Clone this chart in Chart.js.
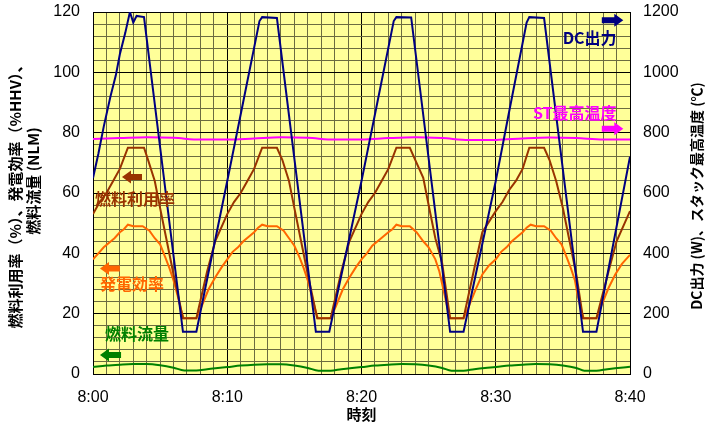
<!DOCTYPE html>
<html>
<head>
<meta charset="utf-8">
<script src="https://cdn.jsdelivr.net/npm/chart.js@4.4.0/dist/chart.umd.min.js"></script>
<style>
html, body { margin: 0; padding: 0; background: #fff; }
</style>
</head>
<body>
<canvas id="c" width="719" height="423"></canvas>
<script>
// time in minutes after 8:00
var xTicks = [0, 10, 20, 30, 40];

// DC output (W) - right axis
var dcTime = [0, 0.4, 0.8, 1.3, 1.7, 2.0, 2.4, 2.75, 3.0, 3.25, 3.8, 6.7, 7.7,
  10.0, 11.0, 12.4, 12.6, 13.7, 16.6, 17.6,
  20.0, 21.0, 22.4, 22.6, 23.7, 26.6, 27.6,
  30.0, 31.0, 32.3, 32.5, 33.6, 36.5, 37.5, 40.0];
var dcPower = [650, 730, 820, 920, 990, 1060, 1130, 1200, 1165, 1187, 1183, 140, 140,
  640, 860, 1170, 1183, 1180, 140, 140,
  640, 860, 1170, 1183, 1182, 140, 140,
  640, 870, 1165, 1183, 1180, 140, 140, 720];

// stack max temperature (degC) - right axis
var stTime = [0, 2, 4, 6, 8, 10, 12, 14, 16, 18, 20, 22, 24, 26, 28, 30, 32, 34, 36, 38, 40];
var stTemp = [779, 782, 785, 783, 777, 777, 781, 785, 783, 777, 777, 782, 785, 782, 776, 776, 781, 784, 782, 777, 777];

// fuel utilization (%)
var fuTime = [0, 0.5, 1.0, 1.5, 2.0, 2.6, 3.8, 4.1, 4.6, 5.0, 5.5, 6.0, 6.7, 7.7, 8.5, 9.1,
  10.0, 10.5, 11.0, 11.5, 12.0, 12.6, 13.7, 14.1, 14.6, 15.0, 15.5, 16.0, 16.7, 17.7, 18.5, 19.1,
  20.0, 20.5, 21.0, 21.5, 22.0, 22.6, 23.6, 24.0, 24.6, 25.0, 25.5, 26.0, 26.6, 27.6, 28.4, 29.0,
  30.0, 30.5, 31.0, 31.5, 32.0, 32.5, 33.6, 34.0, 34.5, 35.0, 35.5, 36.0, 36.5, 37.5, 38.4, 39.0, 40.0];
var fuelUtil = [53, 57, 60, 64, 68, 75, 75, 71, 64, 55, 44, 33, 18.5, 18.5, 34, 44,
  53, 57, 60, 64, 68, 75, 75, 71, 64, 55, 44, 33, 18.5, 18.5, 34, 44,
  53, 57, 60, 64, 68, 75, 75, 71, 65, 56, 45, 37, 18.5, 18.5, 35, 47,
  54, 57, 61, 64, 68, 75, 75, 71, 64, 55, 44, 33, 18.5, 18.5, 34, 44, 54];

// generating efficiency (%HHV)
var effTime = [0, 0.4, 0.8, 1.2, 1.6, 2.0, 2.3, 2.6, 3.0, 3.7, 4.2, 4.6, 5.0, 5.4, 5.7, 6.0, 6.3, 6.6, 6.75, 7.7, 8.1, 8.6, 9.1, 9.6,
  10, 10.4, 10.8, 11.2, 11.6, 12.0, 12.3, 12.6, 13.0, 13.7, 14.2, 14.6, 15.0, 15.4, 15.7, 16.0, 16.3, 16.6, 16.75, 17.7, 18.1, 18.6, 19.1, 19.6,
  20, 20.4, 20.8, 21.2, 21.6, 22.0, 22.3, 22.6, 23.0, 23.6, 24.1, 24.6, 25.0, 25.5, 25.8, 26.0, 26.2, 26.45, 26.6, 27.6, 28.0, 28.5, 29.0, 29.5,
  30, 30.4, 30.8, 31.2, 31.6, 32.0, 32.3, 32.6, 33.0, 33.6, 34.1, 34.5, 34.9, 35.3, 35.6, 35.9, 36.1, 36.4, 36.55, 37.5, 37.9, 38.4, 38.9, 39.4, 40];
var efficiency = [38, 40, 42, 43.5, 45, 47, 48, 49.5, 49, 49, 47.5, 45, 43, 38.5, 35, 31, 26, 20.5, 18.5, 18.5, 22.5, 28, 32, 35.5,
  38, 40.5, 42, 44, 45.5, 47, 48.5, 49.5, 49, 49, 47.5, 45, 42.5, 38.5, 35, 31, 26, 20.5, 18.5, 18.5, 22.5, 28, 32, 35.5,
  38, 40, 42.5, 44, 45.5, 47, 48, 49.5, 49, 49, 47, 44, 42, 38, 34, 30, 26, 21, 18.5, 18.5, 22.5, 28, 33, 36,
  38, 40.5, 42, 44, 45.5, 47, 48.5, 49.5, 49, 49, 47.5, 45, 43, 38.5, 35, 31, 26, 20.5, 18.5, 18.5, 23, 28.5, 33, 36.5, 39.5];

// fuel flow (NLM)
var flowTime = [0, 1, 2, 3, 4, 5, 6, 6.8, 7.7, 8.5, 9.3,
  10, 11, 12, 13, 14, 15, 16, 16.8, 17.7, 18.5, 19.3,
  20, 21, 22, 23, 24, 25, 26, 26.7, 27.6, 28.4, 29.2,
  30, 31, 32, 33, 34, 35, 36, 36.6, 37.5, 38.3, 39.1, 40];
var fuelFlow = [2.3, 2.8, 3.1, 3.3, 3.3, 2.9, 2.1, 1.2, 1.2, 1.6, 2.0,
  2.3, 2.8, 3.1, 3.2, 3.2, 2.8, 2.0, 1.1, 1.1, 1.6, 2.0,
  2.3, 2.8, 3.1, 3.3, 3.2, 2.8, 2.0, 1.1, 1.1, 1.6, 2.0,
  2.3, 2.8, 3.1, 3.3, 3.2, 2.8, 2.0, 1.1, 1.1, 1.6, 2.0, 2.4];

function pts(t, v) {
  var out = [];
  for (var i = 0; i < t.length; i++) out.push({ x: t[i], y: v[i] });
  return out;
}

// labels with arrows, placed in data units (minutes, left axis)
var notes = [
  { text: 'DC出力', x: 39.0, y: 111.3, align: 'right', color: '#000080', a1: 37.9, a2: 39.5, ay: 117.3, dir: 1 },
  { text: 'ST最高温度', x: 39.0, y: 86.7, align: 'right', color: '#ff00ff', a1: 37.9, a2: 39.5, ay: 81.3, dir: 1 },
  { text: '燃料利用率', x: 0.15, y: 58, align: 'left', color: '#993300', a1: 2.16, a2: 3.65, ay: 65.3, dir: -1 },
  { text: '発電効率', x: 0.52, y: 29.7, align: 'left', color: '#ff6600', a1: 0.52, a2: 2.0, ay: 35, dir: -1 },
  { text: '燃料流量', x: 0.9, y: 13.3, align: 'left', color: '#008000', a1: 0.52, a2: 2.09, ay: 6.3, dir: -1 }
];

var JP = '"Noto Sans CJK JP", sans-serif';

function arrow(ctx, x1, x2, y, dir, color) {
  var head = 9, bh = 3, hh = 6.5;
  ctx.fillStyle = color;
  ctx.beginPath();
  if (dir > 0) {
    ctx.moveTo(x1, y - bh); ctx.lineTo(x2 - head, y - bh); ctx.lineTo(x2 - head, y - hh);
    ctx.lineTo(x2, y); ctx.lineTo(x2 - head, y + hh); ctx.lineTo(x2 - head, y + bh); ctx.lineTo(x1, y + bh);
  } else {
    ctx.moveTo(x2, y - bh); ctx.lineTo(x1 + head, y - bh); ctx.lineTo(x1 + head, y - hh);
    ctx.lineTo(x1, y); ctx.lineTo(x1 + head, y + hh); ctx.lineTo(x1 + head, y + bh); ctx.lineTo(x2, y + bh);
  }
  ctx.closePath();
  ctx.fill();
}

var deco = {
  id: 'deco',
  beforeDraw: function (chart) {
    var a = chart.chartArea, ctx = chart.ctx;
    ctx.save();
    ctx.fillStyle = '#ffff99';
    ctx.fillRect(a.left, a.top, a.right - a.left, a.bottom - a.top);
    ctx.restore();
  },
  afterDatasetsDraw: function (chart) {
    var ctx = chart.ctx, sx = chart.scales.x, sy = chart.scales.y;
    ctx.save();
    ctx.font = 'bold 16px ' + JP;
    ctx.textBaseline = 'middle';
    notes.forEach(function (n) {
      ctx.fillStyle = n.color;
      ctx.textAlign = n.align;
      ctx.fillText(n.text, sx.getPixelForValue(n.x), sy.getPixelForValue(n.y));
      arrow(ctx, sx.getPixelForValue(n.a1), sx.getPixelForValue(n.a2), sy.getPixelForValue(n.ay), n.dir, n.color);
    });
    ctx.restore();
  },
  afterDraw: function (chart) {
    var ctx = chart.ctx, a = chart.chartArea;
    var cy = (a.top + a.bottom) / 2;
    ctx.save();
    ctx.fillStyle = '#000';
    ctx.textAlign = 'center';
    ctx.textBaseline = 'middle';
    ctx.font = 'bold 15px ' + JP;
    ctx.save();
    ctx.translate(15, cy);
    ctx.rotate(-Math.PI / 2);
    ctx.fillText('燃料利用率（%）、発電効率（%HHV）、', 0, 0);
    ctx.restore();
    ctx.save();
    ctx.translate(33, cy - 12);
    ctx.rotate(-Math.PI / 2);
    ctx.fillText('燃料流量 (NLM)', 0, 0);
    ctx.restore();
    ctx.font = 'bold 14px ' + JP;
    ctx.save();
    ctx.translate(697, cy + 3);
    ctx.rotate(-Math.PI / 2);
    ctx.fillText('DC出力 (W)、スタック最高温度 (℃)', 0, 0);
    ctx.restore();
    ctx.font = 'bold 15px ' + JP;
    ctx.fillText('時刻', (a.left + a.right) / 2, 414);
    ctx.restore();
  }
};

function gridColor(ctx, major) {
  return ctx.tick && ctx.tick.value % major === 0 ? '#000000' : '#6b6b40';
}

function fitY(width) {
  return function (s) {
    s.width = width;
    s.paddingTop = 0;
    s.paddingBottom = 0;
  };
}

var tickFont = { family: '"Liberation Sans", Arial, sans-serif', size: 16 };

var chart = new Chart(document.getElementById('c').getContext('2d'), {
  type: 'line',
  data: {
    datasets: [
      { label: 'DC出力', data: pts(dcTime, dcPower), yAxisID: 'y2', borderColor: '#000080', order: 0 },
      { label: '燃料利用率', data: pts(fuTime, fuelUtil), yAxisID: 'y', borderColor: '#993300', order: 1 },
      { label: '発電効率', data: pts(effTime, efficiency), yAxisID: 'y', borderColor: '#ff6600', order: 2 },
      { label: 'ST最高温度', data: pts(stTime, stTemp), yAxisID: 'y2', borderColor: '#ff00ff', order: 3, cubicInterpolationMode: 'monotone' },
      { label: '燃料流量', data: pts(flowTime, fuelFlow), yAxisID: 'y', borderColor: '#008000', order: 4, cubicInterpolationMode: 'monotone' }
    ]
  },
  options: {
    responsive: false,
    animation: false,
    layout: { padding: { top: 12, left: 0, right: 0, bottom: 0 } },
    elements: {
      point: { radius: 0 },
      line: { borderWidth: 2, tension: 0, fill: false }
    },
    plugins: { legend: { display: false }, tooltip: { enabled: false } },
    scales: {
      x: {
        type: 'linear', min: 0, max: 40,
        afterFit: function (s) { s.height = 49; },
        ticks: {
          stepSize: 1, autoSkip: false, maxRotation: 0, color: '#000', font: tickFont, padding: 14,
          callback: function (v) { return v % 10 === 0 ? '8:' + String(v).padStart(2, '0') : ''; }
        },
        grid: { color: function (c) { return gridColor(c, 10); }, lineWidth: 1, drawTicks: false },
        border: { color: '#000', width: 1 }
      },
      y: {
        position: 'left', min: 0, max: 120,
        afterFit: fitY(93),
        ticks: {
          stepSize: 4, autoSkip: false, color: '#000', font: tickFont, padding: 13,
          callback: function (v) { return v % 20 === 0 ? String(v) : ''; }
        },
        grid: { color: function (c) { return gridColor(c, 20); }, lineWidth: 1, drawTicks: false },
        border: { color: '#000', width: 1 }
      },
      y2: {
        position: 'right', min: 0, max: 1200,
        afterFit: fitY(89),
        ticks: {
          stepSize: 200, color: '#000', font: tickFont, padding: 13,
          callback: function (v) { return String(v); }
        },
        grid: { drawOnChartArea: false, drawTicks: false },
        border: { color: '#000', width: 1 }
      }
    }
  },
  plugins: [deco]
});
</script>
</body>
</html>
